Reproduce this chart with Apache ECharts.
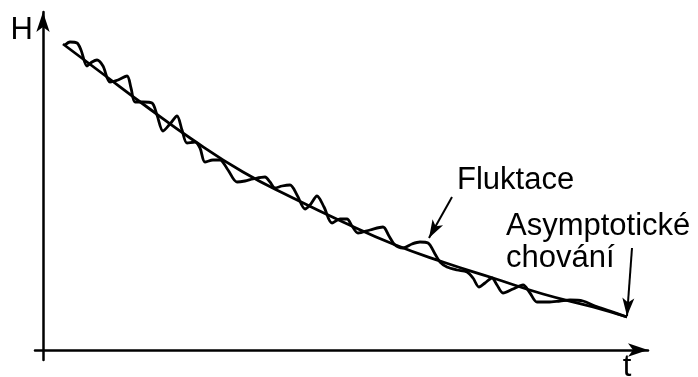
<!DOCTYPE html>
<html>
<head>
<meta charset="utf-8">
<script src="https://cdn.jsdelivr.net/npm/echarts@6/dist/echarts.min.js"></script>
<style>
  html, body { margin: 0; padding: 0; background: #fff; }
  #chart { width: 698px; height: 377px; }
</style>
</head>
<body>
<div id="chart"></div>
<script>
// trend (smooth decay)
const trendT = [20, 60, 100, 150, 200, 250, 300, 350, 400, 450, 500, 550, 584];
const trendH = [306, 276, 246, 210, 178, 152, 128, 106, 88, 72, 56, 43, 33];

// fluctuating curve
const flucT = [22, 27, 34, 38, 44, 49, 54, 60, 67, 75, 84, 88, 92, 100, 109, 114, 120, 127, 134, 139,
  144, 152, 157, 162, 170, 177, 185, 194, 202, 210, 222, 227, 232, 239, 247, 254, 262, 267, 274, 281,
  289, 297, 304, 309, 315, 327, 340, 346, 352, 360, 369, 377, 385, 392, 397, 404, 414, 424, 430, 436,
  442, 449, 454, 460, 470, 480, 487, 494, 505, 517, 527, 540, 552, 567, 584];
const flucH = [305, 308, 307, 300, 284, 288, 290, 284, 268, 270, 274, 262, 248, 248, 247, 235, 219, 226, 234, 220,
  207, 208, 202, 188, 190, 190, 180, 168, 169, 171, 173, 168, 162, 164, 165, 155, 141, 145, 154, 143,
  127, 131, 131, 124, 117, 120, 123, 114, 105, 102, 106, 108, 107, 96, 88, 83, 80, 78, 72, 63,
  67, 72, 65, 57, 61, 65, 57, 48, 48, 49, 50, 49, 44, 39, 33];

// annotation arrows: [from, to]
const arrowFluktace = [[409, 153], [386, 112]];
const arrowAsym = [[589, 102], [584, 34]];

const chart = echarts.init(document.getElementById("chart"));
const FONT = "Liberation Sans, Arial, sans-serif";

function pairs(xs, ys) {
  return xs.map((x, i) => [x, ys[i]]);
}

function arrowLine(a) {
  return [
    { coord: a[0], symbol: "none" },
    { coord: a[1], symbol: "arrow", symbolSize: [9, 18] },
  ];
}

chart.setOption({
  animation: false,
  grid: { left: 35, right: 50, top: 12, bottom: 17, containLabel: false, outerBoundsMode: "none" },
  xAxis: {
    type: "value", min: -8, max: 605,
    name: "t", nameLocation: "end", nameGap: -21,
    nameTextStyle: { fontFamily: FONT, fontSize: 31, color: "#000", align: "center", verticalAlign: "top", padding: [2, 0, 0, 0] },
    axisLine: { onZero: true, symbol: ["none", "arrow"], symbolSize: [10, 20], lineStyle: { color: "#000", width: 2.5 } },
    axisTick: { show: false }, axisLabel: { show: false }, splitLine: { show: false },
  },
  yAxis: {
    type: "value", min: -10, max: 338,
    name: "H", nameLocation: "end", nameGap: -18,
    nameTextStyle: { fontFamily: FONT, fontSize: 31, color: "#000", align: "right", verticalAlign: "middle", padding: [0, 10, 0, 0] },
    axisLine: { onZero: true, symbol: ["none", "arrow"], symbolSize: [10, 20], lineStyle: { color: "#000", width: 2.5 } },
    axisTick: { show: false }, axisLabel: { show: false }, splitLine: { show: false },
  },
  series: [
    {
      name: "trend", type: "line", data: pairs(trendT, trendH), smooth: true, showSymbol: false,
      lineStyle: { color: "#000", width: 2.8 },
    },
    {
      name: "fluktace", type: "line", data: pairs(flucT, flucH), smooth: 0.3, showSymbol: false,
      lineStyle: { color: "#000", width: 2.8 },
      markLine: {
        silent: true, symbol: ["none", "arrow"], label: { show: false },
        lineStyle: { color: "#000", width: 2, type: "solid" },
        data: [arrowLine(arrowFluktace), arrowLine(arrowAsym)],
      },
    },
  ],
  graphic: [
    { type: "text", x: 457, y: 180, style: { text: "Fluktace", font: "31px " + FONT, fill: "#000", verticalAlign: "middle" } },
    { type: "text", x: 506, y: 210, style: { text: "Asymptotické\nchování", font: "31px " + FONT, fill: "#000", verticalAlign: "top", lineHeight: 32 } },
  ],
});

window.addEventListener("resize", () => chart.resize());
</script>
</body>
</html>
